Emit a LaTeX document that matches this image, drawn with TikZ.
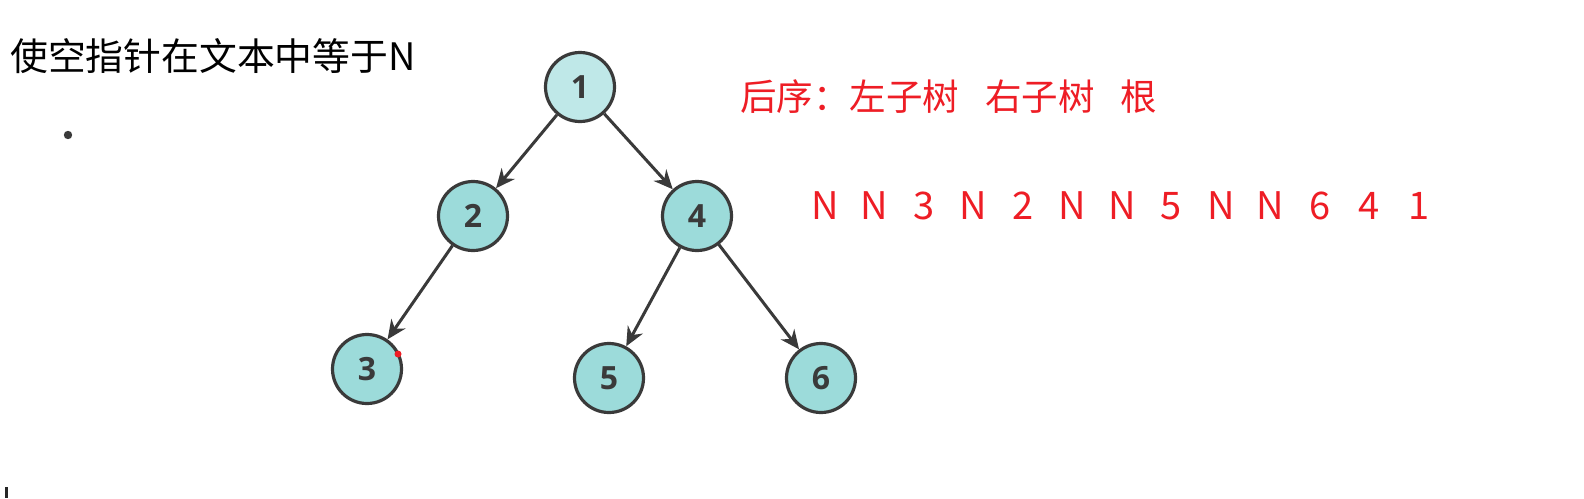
\documentclass[tikz,border=0pt]{standalone}
\usepackage{fontspec}
\setmainfont{Noto Sans CJK SC}
\newfontfamily\numfont{Open Sans}
\usetikzlibrary{arrows.meta}
\definecolor{nodefill}{HTML}{9CDBDA}
\definecolor{rootfill}{HTML}{BFE8E8}
\definecolor{nodeline}{HTML}{3A3A3A}
\definecolor{textred}{HTML}{EE1D25}
\newcommand{\seqcell}[1]{\makebox[49.5pt]{#1}}
\tikzset{
  treenode/.style={circle,draw=nodeline,line width=3.2pt,fill=nodefill,
    minimum size=69pt,inner sep=0pt,text=nodeline,
    font=\numfont\bfseries\fontsize{32}{34}\selectfont},
  edge/.style={draw=nodeline,line width=3pt,
    -{Stealth[length=19pt,width=17pt]}}
}
\begin{document}
\begin{tikzpicture}
    [x=1pt,y=-1pt]
    \useasboundingbox[fill=white] (0,0) rectangle (1584,498);
    %heading
    \node[anchor=base west,inner sep=0pt,font=\fontsize{37.8}{40}\selectfont]
      (title) at (10,70) {使空指针在文本中等于N};
    \fill[nodeline] (68,135) circle (4.2pt);
    \fill[black!85] (5,487) rectangle (8,498);
    %tree
    \node[treenode,fill=rootfill] (n1) at (580,87) {1};
    \node[treenode] (n2) at (473,216) {2};
    \node[treenode] (n4) at (697,216) {4};
    \node[treenode] (n3) at (367,369) {3};
    \node[treenode] (n5) at (609,378) {5};
    \node[treenode] (n6) at (821,378) {6};
    \fill[textred] (398,354) circle (3.5pt);
    %edges
    \draw[edge] (n1) -- (n2);
    \draw[edge] (n1) -- (n4);
    \draw[edge] (n2) -- (n3);
    \draw[edge] (n4) -- (n5);
    \draw[edge] (n4) -- (n6);
    %post order
    \node[anchor=base west,inner sep=0pt,text=textred,
      font=\fontsize{36.5}{40}\selectfont]
      (order) at (740,110) {后序：左子树\hspace{26pt}右子树\hspace{26pt}根};
    \node[anchor=base west,inner sep=0pt,text=textred,
      font=\fontsize{38}{40}\selectfont]
      (seq) at (800,219) {\seqcell{N}\seqcell{N}\seqcell{3}\seqcell{N}%
      \seqcell{2}\seqcell{N}\seqcell{N}\seqcell{5}\seqcell{N}\seqcell{N}%
      \seqcell{6}\seqcell{4}\seqcell{1}};
\end{tikzpicture}
\end{document}
